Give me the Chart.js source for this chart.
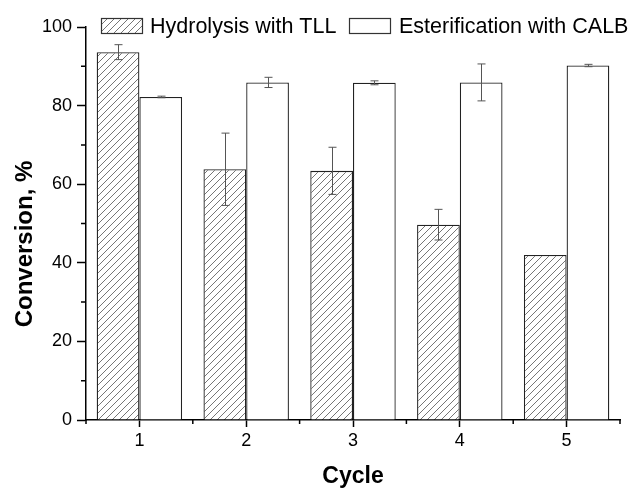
<!DOCTYPE html>
<html>
<head>
<meta charset="utf-8">
<script src="https://cdn.jsdelivr.net/npm/chart.js@4.4.1/dist/chart.umd.min.js"></script>
<style>
  html, body { margin: 0; padding: 0; background: #fff; }
  #wrap { width: 632px; height: 490px; }
</style>
</head>
<body>
<div id="wrap"><canvas id="chart" width="632" height="490"></canvas></div>
<script>
// values
const cycles = ['1', '2', '3', '4', '5'];
const hydrolysis = [93.6, 63.8, 63.4, 49.7, 42.0];
const hydrolysisErr = [1.9, 9.2, 6.0, 3.9, 0];
const esterification = [82.2, 85.9, 85.8, 85.9, 90.2];
const esterificationErr = [0.2, 1.3, 0.5, 4.7, 0.3];
const yTicks = [0, 20, 40, 60, 80, 100];

const FONT = "'Liberation Sans', Arial, sans-serif";

function makeHatch() {
    const s = 7;
    const c = document.createElement('canvas');
    c.width = s;
    c.height = s;
    const g = c.getContext('2d');
    g.fillStyle = '#fff';
    g.fillRect(0, 0, s, s);
    g.strokeStyle = '#666';
    g.lineWidth = 0.9;
    g.beginPath();
    g.moveTo(0, s); g.lineTo(s, 0);
    g.moveTo(-1, 1); g.lineTo(1, -1);
    g.moveTo(s - 1, s + 1); g.lineTo(s + 1, s - 1);
    g.stroke();
    return g.createPattern(c, 'repeat');
}

const hatch = makeHatch();
const errors = [hydrolysisErr, esterificationErr];

// error bars, minor ticks, y title and legend
const extras = {
    id: 'extras',
    afterDatasetsDraw: (chart) => {
        const { ctx, scales } = chart;
        ctx.save();
        ctx.strokeStyle = '#555';
        ctx.lineWidth = 1;
        chart.data.datasets.forEach((ds, d) => {
            chart.getDatasetMeta(d).data.forEach((bar, i) => {
                const err = errors[d][i];
                if (!err) return;
                const yTop = scales.y.getPixelForValue(ds.data[i] + err);
                const yBot = scales.y.getPixelForValue(ds.data[i] - err);
                const x = Math.round(bar.x) + 0.5;
                ctx.beginPath();
                ctx.moveTo(x, yTop); ctx.lineTo(x, yBot);
                ctx.moveTo(x - 4, yTop); ctx.lineTo(x + 4, yTop);
                ctx.moveTo(x - 4, yBot); ctx.lineTo(x + 4, yBot);
                ctx.stroke();
            });
        });
        ctx.restore();
    },
    afterDraw: (chart) => {
        const { ctx, scales, chartArea } = chart;
        ctx.save();
        ctx.strokeStyle = '#000';
        ctx.lineWidth = 1.5;
        ctx.beginPath();
        for (let v = 10; v < 100; v += 20) {
            const y = scales.y.getPixelForValue(v);
            ctx.moveTo(chartArea.left - 5, y);
            ctx.lineTo(chartArea.left, y);
        }
        for (let i = -0.5; i < cycles.length; i += 1) {
            const x = scales.x.getPixelForValue(i);
            ctx.moveTo(x, chartArea.bottom);
            ctx.lineTo(x, chartArea.bottom + 4);
        }
        ctx.stroke();

        // y axis title
        ctx.fillStyle = '#000';
        ctx.font = 'bold 24px ' + FONT;
        ctx.textAlign = 'center';
        ctx.textBaseline = 'middle';
        ctx.translate(25, 244);
        ctx.rotate(-Math.PI / 2);
        ctx.fillText('Conversion, %', 0, 0);
        ctx.restore();

        // legend
        ctx.save();
        ctx.font = '21.5px ' + FONT;
        ctx.textBaseline = 'alphabetic';
        const items = [[101, 150], [349, 399]];
        chart.data.datasets.forEach((ds, d) => {
            const [bx, tx] = items[d];
            ctx.fillStyle = ds.backgroundColor;
            ctx.fillRect(bx, 18, 42, 15);
            ctx.strokeStyle = '#333';
            ctx.lineWidth = 1.2;
            ctx.strokeRect(bx + 0.5, 18.5, 41, 15);
            ctx.fillStyle = '#000';
            ctx.fillText(ds.label, tx, 33);
        });
        ctx.restore();
    },
};

Chart.defaults.font.family = FONT;
Chart.defaults.color = '#000';

new Chart(document.getElementById('chart'), {
    type: 'bar',
    data: {
        labels: cycles,
        datasets: [
            {
                label: 'Hydrolysis with TLL',
                data: hydrolysis,
                backgroundColor: hatch,
                borderColor: '#222',
                borderWidth: 1.3,
            },
            {
                label: 'Esterification with CALB',
                data: esterification,
                backgroundColor: '#fff',
                borderColor: '#222',
                borderWidth: 1.3,
            },
        ],
    },
    options: {
        responsive: false,
        animation: false,
        devicePixelRatio: 1,
        barPercentage: 1,
        categoryPercentage: 0.8,
        layout: { padding: { left: 0, top: 27, right: 12, bottom: 0 } },
        plugins: {
            legend: { display: false },
            tooltip: { enabled: false },
        },
        scales: {
            x: {
                afterFit: (scale) => { scale.height = 70; },
                grid: {
                    offset: false,
                    drawOnChartArea: false,
                    tickLength: 7,
                    tickWidth: 1.5,
                    tickColor: '#000',
                },
                border: { color: '#000', width: 1.5 },
                ticks: { font: { size: 18 }, padding: 3, maxRotation: 0 },
                title: {
                    display: true,
                    text: 'Cycle',
                    font: { size: 23, weight: 'bold', lineHeight: 1 },
                    padding: { top: 0, bottom: 2 },
                },
            },
            y: {
                min: 0,
                max: 100,
                afterFit: (scale) => { scale.width = 86; },
                afterBuildTicks: (scale) => {
                    scale.ticks = yTicks.map((v) => ({ value: v }));
                },
                grid: {
                    drawOnChartArea: false,
                    tickLength: 9,
                    tickWidth: 1.5,
                    tickColor: '#000',
                },
                border: { color: '#000', width: 1.5 },
                ticks: { font: { size: 18 }, padding: 5 },
            },
        },
    },
    plugins: [extras],
});
</script>
</body>
</html>
